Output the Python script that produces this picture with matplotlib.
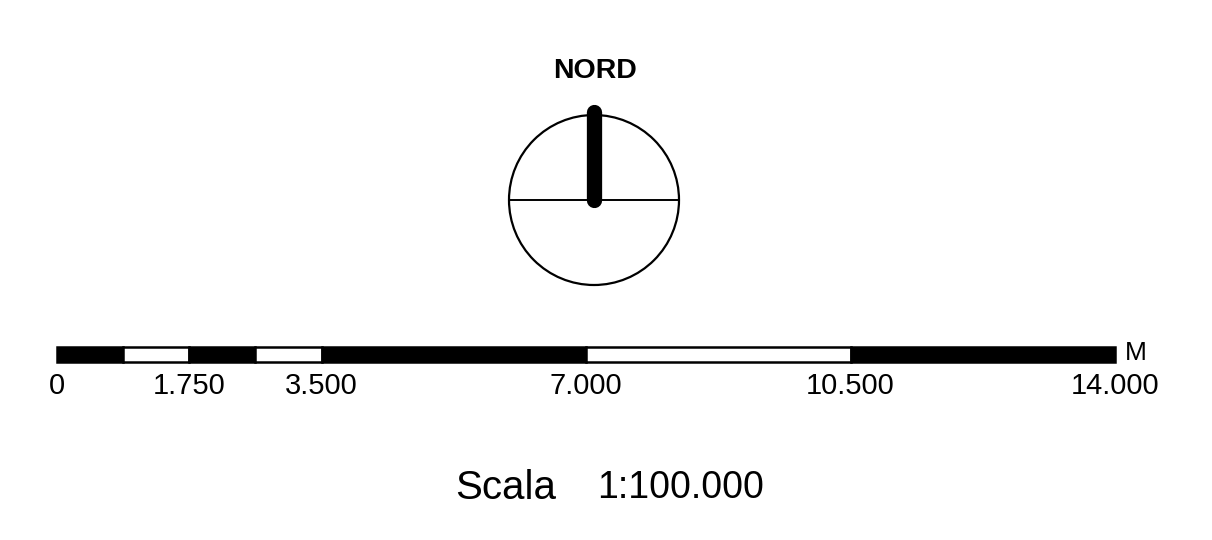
import matplotlib
matplotlib.use("Agg")
import matplotlib.pyplot as plt
from matplotlib.patches import Circle

plt.rcParams['font.family'] = ['Liberation Sans', 'DejaVu Sans']

# scala grafica (metri)
seg_starts = [0, 875, 1750, 2625, 3500, 7000, 10500]
seg_ends = [875, 1750, 2625, 3500, 7000, 10500, 14000]
seg_colors = ["black", "white", "black", "white", "black", "white", "black"]
tick_values = [0, 1750, 3500, 7000, 10500, 14000]
tick_labels = ["0", "1.750", "3.500", "7.000", "10.500", "14.000"]
unit = "M"
scale_text = "Scala"
scale_ratio = "1:100.000"
north_label = "NORD"

W, H = 1212, 540
fig = plt.figure(figsize=(W / 100, H / 100), dpi=100)

# assi in pixel per bussola e testi
ax = fig.add_axes([0, 0, 1, 1])
ax.set_xlim(0, W)
ax.set_ylim(H, 0)
ax.axis("off")

cx, cy, r = 594, 200, 85
ax.add_patch(Circle((cx, cy), r, fill=False, edgecolor="black", linewidth=1.6))
ax.plot([cx - r, cx + r], [cy, cy], color="black", linewidth=1.4)
ax.plot([cx, cx], [cy, cy - 88], color="black", linewidth=11, solid_capstyle="round")
ax.text(cx + 1, 71, north_label, ha="center", va="center", fontsize=20.5, fontweight="bold")

ax.text(455, 488, scale_text, ha="left", va="center", fontsize=29)
ax.text(597, 488, scale_ratio, ha="left", va="center", fontsize=27)

# assi della scala
x0, x1, y0, y1 = 57, 1115, 330, 410
sax = fig.add_axes([x0 / W, (H - y1) / H, (x1 - x0) / W, (y1 - y0) / H])
sax.set_xlim(0, 14000)
sax.set_ylim(y1 - y0, 0)
sax.axis("off")

widths = [e - s for s, e in zip(seg_starts, seg_ends)]
sax.barh(24.5, widths, left=seg_starts, height=15, color=seg_colors,
         edgecolor="black", linewidth=1.8, clip_on=False)
for v, lab in zip(tick_values, tick_labels):
    sax.text(v, 56, lab, ha="center", va="center", fontsize=21, clip_on=False)
sax.annotate(unit, xy=(14000, 24.5), xytext=(10, 2), textcoords="offset pixels",
             ha="left", va="center", fontsize=19, annotation_clip=False)

fig.savefig("out.png", dpi=100, facecolor="white")
